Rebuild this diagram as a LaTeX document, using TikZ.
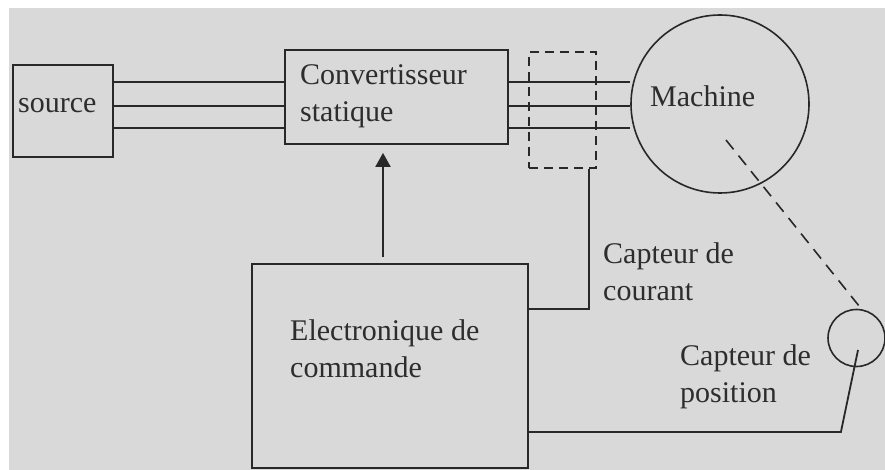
\documentclass[tikz,border=0pt]{standalone}
\usepackage{fontspec}
\setmainfont{Liberation Serif}
\usetikzlibrary{arrows.meta, positioning}

\definecolor{fondgris}{RGB}{217,217,217}
\definecolor{trait}{RGB}{40,40,40}
\definecolor{texte}{RGB}{45,45,45}

\begin{document}
\begin{tikzpicture}[
    x=1pt, y=-1pt, % one unit = one pixel, y pointing down
    >=Latex, % Set default arrow tip style
    wire/.style={draw=trait, line width=1.8pt}, % Style for the wires
    bloc/.style={draw=trait, line width=1.8pt, rectangle, inner sep=0pt}, % Style for the blocks
    capteur/.style={draw=trait, line width=1.6pt, dash pattern=on 9pt off 6pt, rectangle, inner sep=0pt}, % Current sensor
    rond/.style={draw=trait, line width=1.6pt, circle, inner sep=0pt}, % Machine and position sensor
    txt/.style={text=texte, font=\fontsize{30}{37}\selectfont, align=left, inner sep=0pt}, % Labels
    ctl/.style={draw=trait, line width=2pt, -{Triangle[length=14pt,width=15pt]}} % Command arrow
]

    % Page and background
    \useasboundingbox (0,0) rectangle (885,470);
    \fill[white] (0,0) rectangle (885,470);
    \fill[fondgris] (9,8) rectangle (885,470);

    % Blocks
    \node[bloc, minimum width=100pt, minimum height=92pt] (src) at (63,111) {};
    \node[bloc, minimum width=223pt, minimum height=94pt] (conv) at (396.5,97) {};
    \node[capteur, minimum width=67pt, minimum height=116pt] (cc) at (562.5,110) {};
    \node[rond, minimum size=178pt] (mach) at (720,104) {};
    \node[bloc, minimum width=276pt, minimum height=204pt] (cmd) at (390,366) {};
    \node[rond, minimum size=57pt] (cpos) at (856.5,338) {};

    % Labels (base = baseline of the last line)
    \node[txt, anchor=base west] (tsrc) at (18,113) {source};
    \node[txt, anchor=base west] (tconv) at (300,122) {Convertisseur\\statique};
    \node[txt, anchor=base west] (tmach) at (650,107) {Machine};
    \node[txt, anchor=base west] (tcmd) at (290,377) {Electronique de\\commande};
    \node[txt, anchor=base west] (tcc) at (603,300) {Capteur de\\courant};
    \node[txt, anchor=base west] (tcpos) at (680,402) {Capteur de\\position};

    % Three phase lines: source -> converter -> machine
    \foreach \dy/\n in {15/a,-9/b,-31/c} {
        \coordinate (p\n) at ([yshift=\dy pt]conv.west);
        \coordinate (q\n) at ([yshift=\dy pt]conv.east);
        \draw[wire] (p\n -| src.east) -- (p\n);
        \draw[wire] (q\n) -- (q\n -| mach.west);
    }

    % Command arrow
    \coordinate (ca) at ([xshift=-7pt,yshift=6pt]cmd.north);
    \draw[ctl, shorten >=8pt] (ca) -- (ca |- conv.south);

    % Current sensor feedback
    \coordinate (ccb) at ([xshift=26.5pt]cc.south);
    \draw[wire] (ccb) |- ([yshift=57pt]cmd.east);

    % Shaft to position sensor (dashed)
    \coordinate (arbre) at ([xshift=6pt,yshift=-36pt]mach.center);
    \draw[wire, line width=1.6pt, dash pattern=on 12pt off 8pt] (arbre) -- (cpos.80);

    % Position sensor feedback
    \coordinate (coin) at ([xshift=312pt,yshift=-66pt]cmd.east);
    \draw[wire] ([yshift=-66pt]cmd.east) -- (coin) -- ([xshift=1.5pt,yshift=-12pt]cpos.center);

\end{tikzpicture}
\end{document}
